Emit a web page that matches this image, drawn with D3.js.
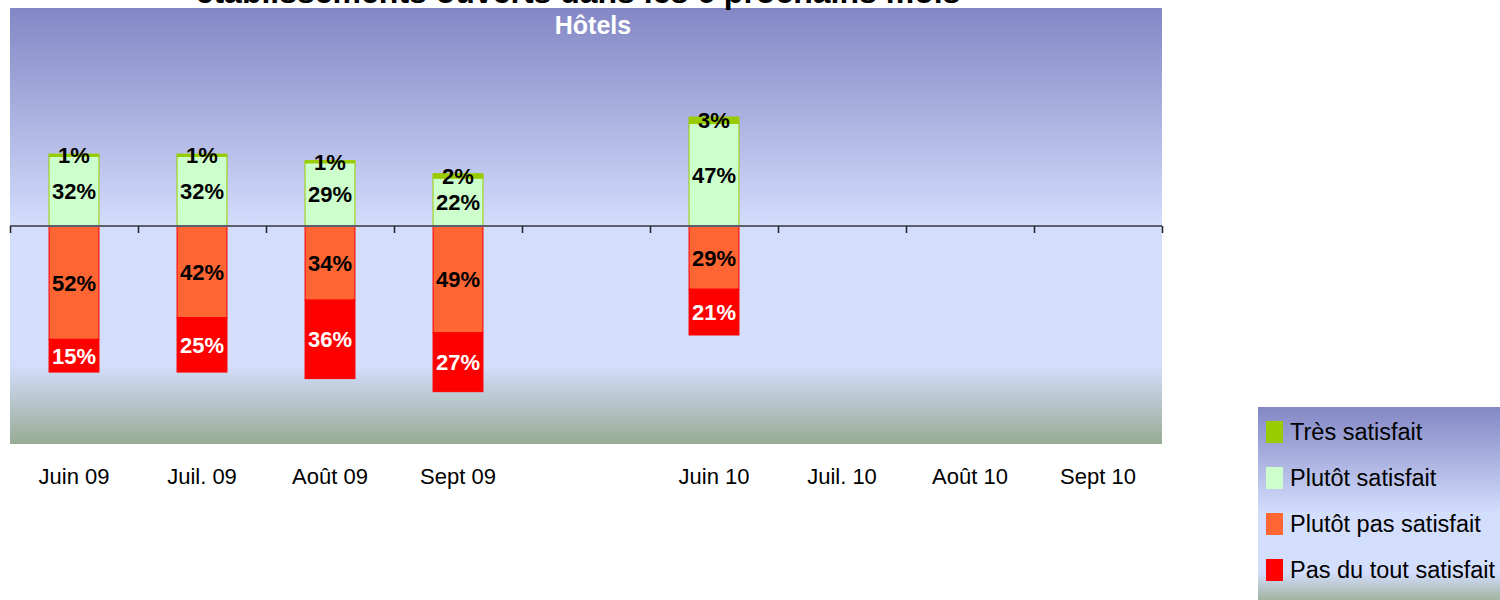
<!DOCTYPE html>
<html>
<head>
<meta charset="utf-8">
<script src="https://cdn.jsdelivr.net/npm/d3@7"></script>
<style>
  body { margin: 0; background: #fff; }
  svg { display: block; font-family: "Liberation Sans", Arial, sans-serif; }
</style>
</head>
<body>
<svg id="chart" width="1500" height="600"></svg>
<script>
const categories = ["Juin 09", "Juil. 09", "Août 09", "Sept 09", "", "Juin 10", "Juil. 10", "Août 10", "Sept 10"];
const tresSatisfait = [1, 1, 1, 2, null, 3, null, null, null];
const plutotSatisfait = [32, 32, 29, 22, null, 47, null, null, null];
const plutotPasSatisfait = [52, 42, 34, 49, null, 29, null, null, null];
const pasDuToutSatisfait = [15, 25, 36, 27, null, 21, null, null, null];
const seriesNames = ["Très satisfait", "Plutôt satisfait", "Plutôt pas satisfait", "Pas du tout satisfait"];
const titleText = "établissements ouverts dans les 6 prochains mois";
const subtitleText = "Hôtels";

const SERIES = [
    { key: "plutot", name: seriesNames[1], fill: "#ccffcc", stroke: "#99cc00", label: "#000" },
    { key: "tres", name: seriesNames[0], fill: "#99cc00", stroke: "#99cc00", label: "#000" },
    { key: "plutotPas", name: seriesNames[2], fill: "#ff6633", stroke: "#ff0000", label: "#000" },
    { key: "pasDuTout", name: seriesNames[3], fill: "#ff0000", stroke: "#ff0000", label: "#fff" },
];

// signed table: satisfied upward, unsatisfied downward
const rows = categories.map((cat, i) => ({
    cat,
    has: plutotSatisfait[i] != null,
    plutot: plutotSatisfait[i] ?? 0,
    tres: tresSatisfait[i] ?? 0,
    plutotPas: -(plutotPasSatisfait[i] ?? 0),
    pasDuTout: -(pasDuToutSatisfait[i] ?? 0),
}));

const svg = d3.select("#chart");
const plot = { left: 10, right: 1162, top: 8, bottom: 444 };

const defs = svg.append("defs");
function addGradient(id, stops) {
    const g = defs.append("linearGradient").attr("id", id)
        .attr("x1", 0).attr("y1", 0).attr("x2", 0).attr("y2", 1);
    stops.forEach(([o, c]) => g.append("stop").attr("offset", o).attr("stop-color", c));
}
addGradient("bgPlot", [[0, "#8387c5"], [0.5, "#d3ddfc"], [0.82, "#d3ddfc"], [1, "#97ac94"]]);
addGradient("bgLegend", [[0, "#8387c5"], [0.55, "#d3ddfc"], [0.86, "#d3ddfc"], [1, "#a2b3a0"]]);

svg.append("rect")
    .attr("x", plot.left).attr("y", plot.top)
    .attr("width", plot.right - plot.left).attr("height", plot.bottom - plot.top)
    .attr("fill", "url(#bgPlot)");

const x = d3.scaleBand()
    .domain(categories)
    .range([plot.left, plot.right])
    .paddingInner(0.61)
    .paddingOuter(0.305);

const y = d3.scaleLinear()
    .domain([-100, 100])
    .range([plot.bottom, plot.top]);

const stack = d3.stack()
    .keys(SERIES.map(s => s.key))
    .offset(d3.stackOffsetDiverging);
const stacked = stack(rows.filter(r => r.has));

const g = svg.append("g");
stacked.forEach((layer, li) => {
    const s = SERIES[li];
    const grp = g.append("g");
    grp.selectAll("rect")
        .data(layer)
        .join("rect")
        .attr("x", d => x(d.data.cat))
        .attr("width", x.bandwidth())
        .attr("y", d => y(Math.max(d[0], d[1])))
        .attr("height", d => Math.abs(y(d[0]) - y(d[1])))
        .attr("fill", s.fill)
        .attr("stroke", s.stroke)
        .attr("stroke-width", 1);
});

// axis line with ticks at category boundaries
const boundary = d3.scaleLinear().domain([0, categories.length]).range([plot.left, plot.right]);
const axisG = svg.append("g")
    .attr("transform", `translate(0,${y(0)})`)
    .call(d3.axisBottom(boundary).ticks(categories.length).tickSize(7).tickFormat(""));
axisG.select(".domain").attr("stroke", "#5e6070").attr("stroke-width", 2).attr("d", `M${plot.left},0H${plot.right}`);
axisG.selectAll(".tick line").attr("stroke", "#222").attr("stroke-width", 1.5);

// value labels
stacked.forEach((layer, li) => {
    const s = SERIES[li];
    g.append("g").selectAll("text")
        .data(layer)
        .join("text")
        .attr("x", d => x(d.data.cat) + x.bandwidth() / 2)
        .attr("y", d => y((d[0] + d[1]) / 2))
        .attr("dy", "0.36em")
        .attr("text-anchor", "middle")
        .attr("font-size", 22)
        .attr("font-weight", "bold")
        .attr("fill", s.label)
        .text(d => Math.abs(d[1] - d[0]) + "%");
});

// category labels
svg.append("g")
    .attr("transform", `translate(0,${plot.bottom})`)
    .call(d3.axisBottom(x).tickSize(0).tickPadding(24))
    .call(a => a.select(".domain").remove())
    .selectAll("text")
    .attr("font-size", 22)
    .attr("font-family", "Liberation Sans, Arial, sans-serif")
    .attr("fill", "#000");

// titles (the main title is cut by the top edge, as in the source image)
svg.append("text")
    .attr("x", 578).attr("y", 3)
    .attr("text-anchor", "middle")
    .attr("font-size", 32).attr("font-weight", "bold")
    .attr("fill", "#000")
    .text(titleText);

svg.append("text")
    .attr("x", 593).attr("y", 34)
    .attr("text-anchor", "middle")
    .attr("font-size", 25).attr("font-weight", "bold")
    .attr("fill", "#fff")
    .text(subtitleText);

// legend
const legend = svg.append("g").attr("transform", "translate(1258,407)");
legend.append("rect").attr("width", 242).attr("height", 193).attr("fill", "url(#bgLegend)");
const legendOrder = [SERIES[1], SERIES[0], SERIES[2], SERIES[3]];
const ly = d3.scalePoint().domain(legendOrder.map(s => s.name)).range([25, 163]);
legendOrder.forEach(s => {
    const row = legend.append("g").attr("transform", `translate(0,${ly(s.name)})`);
    row.append("rect").attr("x", 8).attr("y", -11).attr("width", 17).attr("height", 22).attr("fill", s.fill);
    row.append("text").attr("x", 32).attr("dy", "0.36em")
        .attr("font-size", 23.5).attr("fill", "#000").text(s.name);
});
</script>
</body>
</html>
